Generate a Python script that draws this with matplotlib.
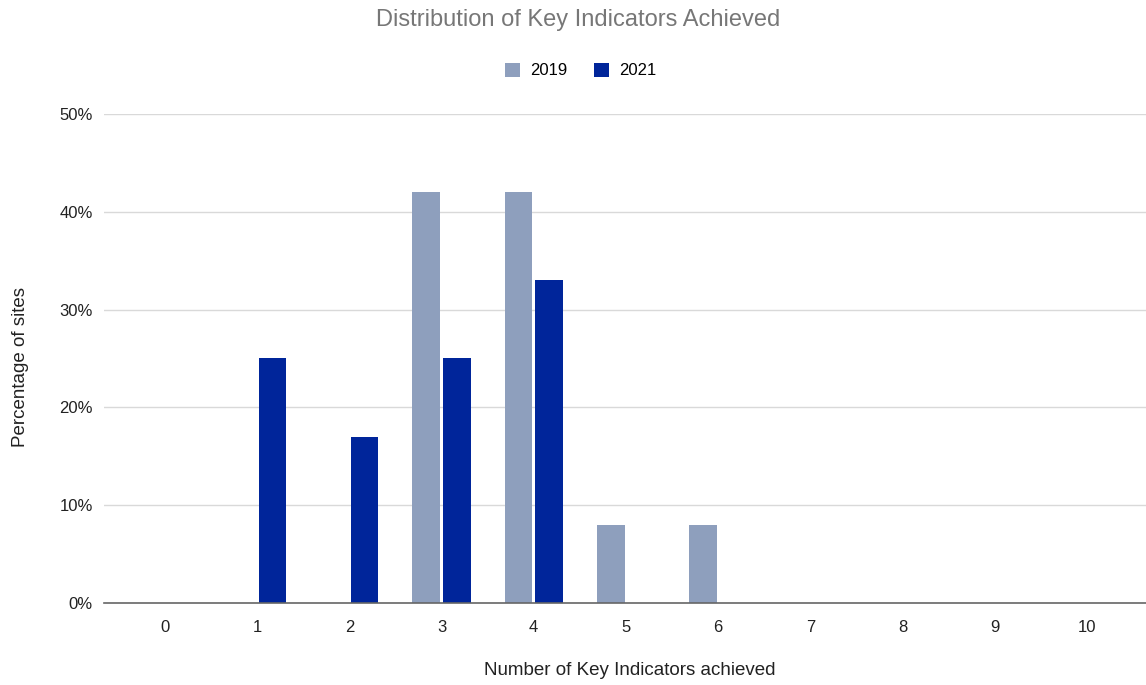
import numpy as np
import matplotlib.pyplot as plt

plt.rcParams['font.family'] = ['Liberation Sans', 'DejaVu Sans']

categories = list(range(11))
values_2019 = [0, 0, 0, 42, 42, 8, 8, 0, 0, 0, 0]
values_2021 = [0, 25, 17, 25, 33, 0, 0, 0, 0, 0, 0]
yticks = [0, 10, 20, 30, 40, 50]

c2019 = '#8e9fbd'
c2021 = '#00259a'

fig = plt.figure(figsize=(11.46, 6.85), dpi=100)
ax = fig.add_axes([0.0908, 0.1197, 0.9092, 0.7139])

x = np.array(categories)
w = 0.30
ax.bar(x - 0.165, values_2019, width=w, color=c2019, label='2019', zorder=3)
ax.bar(x + 0.165, values_2021, width=w, color=c2021, label='2021', zorder=3)

ax.set_xlim(-0.66, 10.64)
ax.set_ylim(0, 50)
ax.set_xticks(x)
ax.set_xticklabels([str(c) for c in categories])
ax.set_yticks(yticks)
ax.set_yticklabels([f'{t}%' for t in yticks])
ax.tick_params(axis='both', length=0, labelsize=12, colors='#222222')
ax.tick_params(axis='x', pad=12)
ax.tick_params(axis='y', pad=8)

ax.grid(axis='y', color='#d9d9d9', linewidth=1, zorder=0)
for side in ['top', 'right', 'left']:
    ax.spines[side].set_visible(False)
ax.spines['bottom'].set_color('#666666')
ax.spines['bottom'].set_linewidth(1.2)
ax.spines['bottom'].set_zorder(4)

ax.set_xlabel('Number of Key Indicators achieved', fontsize=13.5, color='#222222', va='center')
ax.set_ylabel('Percentage of sites', fontsize=13.5, color='#222222', va='center')
ax.xaxis.set_label_coords(0.5043, -0.139)
ax.yaxis.set_label_coords(-0.0806, 0.482)

fig.text(0.5044, 0.971, 'Distribution of Key Indicators Achieved', ha='center', va='center',
         fontsize=17, color='#777777')
fig.legend(loc='center', bbox_to_anchor=(0.507, 0.897), ncol=2, frameon=False, fontsize=12,
           handlelength=0.9, handleheight=0.9, handletextpad=0.6, columnspacing=1.6)

fig.savefig('out.png', dpi=100)
